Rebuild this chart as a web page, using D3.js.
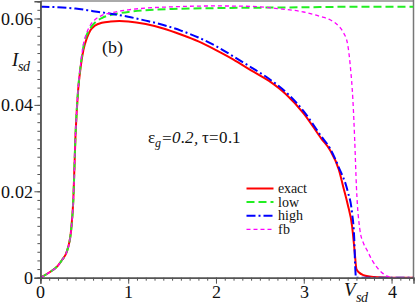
<!DOCTYPE html>
<html><head><meta charset="utf-8">
<script src="https://cdn.jsdelivr.net/npm/d3@7"></script>
<style>
@font-face{font-family:"MySerif";src:local("Liberation Serif"),local("LiberationSerif"),local("LiberationSerif-Regular"),local("DejaVu Serif"),local("DejaVuSerif");font-style:normal;}
@font-face{font-family:"MySerif";src:local("Liberation Serif Italic"),local("LiberationSerif-Italic"),local("DejaVu Serif Italic"),local("DejaVuSerif-Italic");font-style:italic;}
body{margin:0;background:#fff}svg{display:block}</style>
</head><body><svg id="c" width="415" height="306"></svg>
<script>
// ---- data ----
const exactV = [0,0.1,0.2,0.25,0.3,0.35,0.375,0.4,0.43,0.46,0.49,0.53,0.57,0.62,0.7,0.8,0.9,1.0,1.2,1.4,1.6,1.8,2.0,2.2,2.4,2.6,2.8,3.0,3.2,3.3,3.4,3.45,3.5,3.55,3.58,3.6,3.63,3.68,3.75,3.85,4.0,4.25];
const exactI = [0,0.0012,0.0028,0.0042,0.006,0.011,0.018,0.033,0.0434,0.049,0.0527,0.0555,0.0573,0.0583,0.059,0.0593,0.0594,0.0593,0.0587,0.0577,0.0563,0.0547,0.0527,0.0505,0.048,0.0456,0.0424,0.0380,0.0322,0.0295,0.0250,0.021,0.017,0.012,0.006,0.002,0.0012,0.0006,0.0003,0.0001,0,0];
const lowV = [0,0.1,0.2,0.25,0.3,0.35,0.375,0.4,0.43,0.46,0.49,0.53,0.57,0.62,0.7,0.8,1.0,1.2,1.5,2.0,2.5,3.0,3.5,4.25];
const lowI = [0,0.0012,0.0028,0.0042,0.006,0.011,0.018,0.033,0.0436,0.0494,0.0535,0.0563,0.0578,0.0590,0.0601,0.0608,0.0615,0.0619,0.0622,0.0624,0.0625,0.0626,0.0627,0.0627];
const highV = [0,0.2,0.4,0.6,0.8,1.0,1.2,1.4,1.6,1.8,2.0,2.2,2.4,2.6,2.8,3.0,3.2,3.3,3.4,3.5,3.55,3.575,3.585,3.595,3.7,4.25];
const highI = [0.0627,0.0626,0.0623,0.0617,0.0611,0.0604,0.0595,0.0585,0.0572,0.0556,0.0536,0.0512,0.0487,0.0461,0.0429,0.0385,0.0327,0.0299,0.0255,0.0200,0.015,0.009,0.003,0,0,0];
const fbV = [0,0.1,0.2,0.25,0.3,0.35,0.375,0.4,0.43,0.46,0.49,0.53,0.57,0.62,0.7,0.8,0.9,1.0,1.2,1.5,2.0,2.4,2.7,3.0,3.2,3.3,3.4,3.45,3.5,3.53,3.56,3.58,3.6,3.64,3.68,3.72,3.78,3.83,3.9,3.96,4.0,4.25];
const fbI = [0,0.0012,0.0028,0.0042,0.006,0.011,0.018,0.033,0.0437,0.0497,0.0540,0.0568,0.0585,0.0597,0.0607,0.0613,0.0617,0.0620,0.0624,0.0627,0.0629,0.0628,0.0623,0.0615,0.0604,0.0597,0.0582,0.0568,0.0540,0.0490,0.0410,0.0320,0.0210,0.0110,0.0080,0.0064,0.0040,0.0025,0.0010,0.0003,0,0];
const xTicks = [0,1,2,3,4];
const xTickLabels = ["0","1","2","3","4"];
const yTicks = [0,0.02,0.04,0.06];
const yTickLabels = ["0","0.02","0.04","0.06"];
const legendLabels = ["exact","low","high","fb"];

// ---- chart ----
const FONT = "MySerif, 'Liberation Serif', 'DejaVu Serif', serif";
const svg = d3.select("#c");
const x = d3.scaleLinear().domain([0,4.25]).range([40.4,413.5]);
const y = d3.scaleLinear().domain([0,0.064]).range([277.7,1.2]);

svg.append("defs").append("clipPath").attr("id","clip").append("rect")
  .attr("x",x(0)).attr("y",y(0.064)).attr("width",x(4.25)-x(0)).attr("height",y(0)-y(0.064));

svg.append("line").attr("x1",x(0)).attr("x2",x(4.25)).attr("y1",1).attr("y2",1).attr("stroke","#aaa").attr("stroke-width",2);
svg.append("line").attr("x1",413.5).attr("x2",413.5).attr("y1",0).attr("y2",y(0)).attr("stroke","#777").attr("stroke-width",1.5);

const series = [
  {V:exactV,I:exactI,color:"#ff0000",w:2,dash:null},
  {V:lowV,I:lowI,color:"#22ee22",w:2,dash:"8,4"},
  {V:highV,I:highI,color:"#0000ff",w:2,dash:"9,3,2,3"},
  {V:fbV,I:fbI,color:"#ff00ff",w:1.3,dash:"4,3"}
];
const line = d3.line().x(d=>x(d[0])).y(d=>y(d[1])).curve(d3.curveMonotoneX);
const g = svg.append("g").attr("clip-path","url(#clip)");
series.forEach(s=>{
  g.append("path").datum(s.V.map((v,i)=>[v,s.I[i]]))
   .attr("d",line).attr("fill","none").attr("stroke",s.color)
   .attr("stroke-width",s.w).attr("stroke-dasharray",s.dash);
});

const axCol = "#555";
const xMinor = d3.range(0,43).map(i=>i/10).filter(v=>v<=4.25);
const yMinor = d3.range(0,33).map(i=>i*0.002);
const xa = svg.append("g").attr("transform",`translate(0,${y(0)})`);
xa.call(d3.axisBottom(x).tickValues(xMinor).tickSize(3).tickFormat(""));
xa.append("g").call(d3.axisBottom(x).tickValues(xTicks).tickSize(6).tickFormat((d,i)=>xTickLabels[i]));
xa.attr("font-family",FONT).selectAll("g").attr("font-family",FONT);
xa.selectAll("path.domain").attr("stroke",axCol).attr("stroke-width",1.5);
xa.selectAll("line").attr("stroke",axCol);
xa.selectAll("text").attr("fill","#111").style("font-family",FONT).attr("font-size",18).attr("dy","0.71em").attr("y",7.5);
const ya = svg.append("g").attr("transform",`translate(${x(0)},0)`);
ya.call(d3.axisLeft(y).tickValues(yMinor).tickSize(3).tickFormat(""));
ya.append("g").call(d3.axisLeft(y).tickValues(yTicks).tickSize(6).tickFormat((d,i)=>yTickLabels[i]));
ya.attr("font-family",FONT).selectAll("g").attr("font-family",FONT);
ya.selectAll("path.domain").attr("stroke",axCol).attr("stroke-width",1.5);
ya.selectAll("line").attr("stroke",axCol);
ya.selectAll("text").attr("fill","#111").style("font-family",FONT).attr("font-size",18).attr("x",-7);

function txt(xx,yy,size){return svg.append("text").attr("x",xx).attr("y",yy).style("font-family",FONT).attr("font-size",size).attr("fill","#111");}
const yl = txt(12,66,19);
yl.append("tspan").attr("font-style","italic").text("I");
yl.append("tspan").attr("font-style","italic").attr("dy",5).attr("font-size",14).text("sd");
const xl = txt(344,296,19);
xl.append("tspan").attr("font-style","italic").text("V");
xl.append("tspan").attr("font-style","italic").attr("dy",6).attr("font-size",14).text("sd");
txt(102,53,18).text("(b)");
const pt = txt(148,143,17);
pt.append("tspan").text("ε");
pt.append("tspan").attr("dy",4).attr("font-size",12).attr("font-style","italic").text("g");
pt.append("tspan").attr("dy",-4).attr("font-style","italic").text("=0.2,");
pt.append("tspan").text(" τ=0.1");

const leg = svg.append("g");
series.forEach((s,i)=>{
  const yy = 188.5 + i*13.6;
  leg.append("line").attr("x1",246.5).attr("x2",273.5).attr("y1",yy).attr("y2",yy)
    .attr("stroke",s.color).attr("stroke-width",s.w).attr("stroke-dasharray",s.dash);
  txt(277.5,yy+4.5,14).text(legendLabels[i]);
});
</script></body></html>
